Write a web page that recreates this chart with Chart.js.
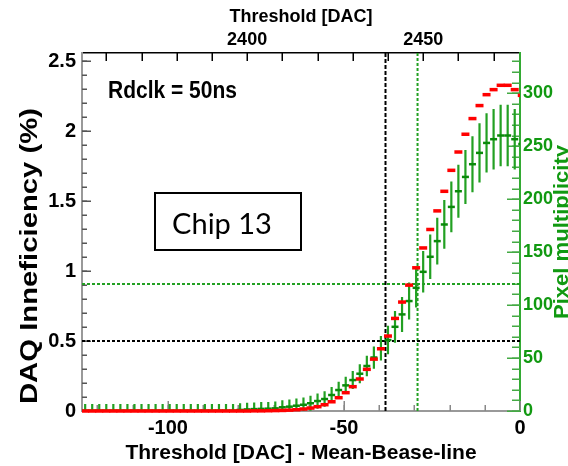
<!DOCTYPE html>
<html>
<head>
<meta charset="utf-8">
<title>DAQ inefficiency - Chip 13</title>
<script src="https://cdn.jsdelivr.net/npm/chart.js@4.4.1/dist/chart.umd.min.js"></script>
<style>
  html, body { margin: 0; padding: 0; background: #fff; }
  canvas { display: block; }
</style>
</head>
<body>
<canvas id="chart" width="568" height="466"></canvas>
<script>
// bin centres, threshold - mean baseline [DAC], 2 DAC wide bins
const BIN_CENTERS = [
  -123.5, -121.5, -119.5, -117.5, -115.5, -113.5, -111.5, -109.5, -107.5, -105.5,
  -103.5, -101.5, -99.5, -97.5, -95.5, -93.5, -91.5, -89.5, -87.5, -85.5,
  -83.5, -81.5, -79.5, -77.5, -75.5, -73.5, -71.5, -69.5, -67.5, -65.5,
  -63.5, -61.5, -59.5, -57.5, -55.5, -53.5, -51.5, -49.5, -47.5, -45.5,
  -43.5, -41.5, -39.5, -37.5, -35.5, -33.5, -31.5, -29.5, -27.5, -25.5,
  -23.5, -21.5, -19.5, -17.5, -15.5, -13.5, -11.5, -9.5, -7.5, -5.5,
  -3.5, -1.5, 0.5
];

// red: DAQ inefficiency (%)
const DAQ_INEFF = [
  0, 0, 0, 0, 0, 0, 0, 0, 0, 0,
  0, 0, 0, 0, 0, 0, 0, 0, 0, 0,
  0, 0, 0, 0, 0.001, 0.001, 0.002, 0.003, 0.004, 0.006,
  0.009, 0.014, 0.021, 0.031, 0.045, 0.066, 0.095, 0.131, 0.174, 0.229,
  0.298, 0.371, 0.445, 0.536, 0.662, 0.779, 0.90, 1.024, 1.166, 1.298,
  1.431, 1.571, 1.721, 1.852, 1.979, 2.091, 2.184, 2.262, 2.298, 2.329,
  2.329, 2.298, 2.257
];

// green: pixel multiplicity and its error
const PIX_MULT = [
  0.3, 0.3, 0.3, 0.3, 0.3, 0.3, 0.3, 0.3, 0.3, 0.3,
  0.3, 0.3, 0.3, 0.3, 0.3, 0.3, 0.3, 0.3, 0.3, 0.3,
  0.3, 0.3, 1.0, 1.5, 1.8, 2.0, 2.2, 2.5, 3.5, 4.1,
  5.0, 5.9, 7.3, 9.4, 11.3, 15.1, 19.8, 24.2, 29.2, 35.2,
  42.5, 50.5, 59.2, 67, 79.5, 91.2, 103.8, 116.3, 131.4, 145.6,
  160.4, 176.1, 192.7, 207.5, 221, 233, 243.7, 253.1, 256.6, 260.1,
  260.1, 256.6, 252
];
const PIX_ERR = [
  6.2, 6.2, 6.2, 6.2, 6.2, 6.2, 6.2, 6.2, 6.2, 6.2,
  6.2, 6.2, 6.2, 6.2, 6.2, 6.2, 6.2, 6.2, 6.2, 6.2,
  6.2, 6.2, 6.2, 6.3, 6.3, 6.4, 6.4, 6.5, 6.6, 6.7,
  6.8, 6.9, 7.0, 7.2, 7.4, 7.6, 7.8, 8.1, 8.5, 9.0,
  9.6, 10.5, 11.5, 13.5, 15, 16.5, 17.5, 18.5, 19.6, 21,
  22, 23, 24, 25, 25.5, 26.5, 28, 28, 28.5, 29,
  29, 28.5, 28
];

// cut lines
const BLACK_CUT_X = -38.2;
const BLACK_CUT_Y = 0.5;     // %
const GREEN_CUT_X = -29.1;
const GREEN_CUT_Y = 120;     // pixels

// axes
const X_MIN = -124.4, X_MAX = 0;
const TOP_OFFSET = 2477.5;   // mean baseline, top axis = x + offset
const Y_MIN = 0, Y_MAX = 2.56;
const Y1_MIN = 0, Y1_MAX = 338;

const X_LABELS = [-100, -50, 0];
const TOP_LABELS = [2400, 2450];
const Y_LABELS = [0, 0.5, 1, 1.5, 2, 2.5];
const Y1_LABELS = [0, 50, 100, 150, 200, 250, 300];

function steps(from, to, step) {
  const out = [];
  const n = Math.round((to - from) / step);
  for (let i = 0; i <= n; i++) out.push(Math.round((from + i * step) * 1000) / 1000);
  return out;
}

const FONT = '"Liberation Sans", Arial, Helvetica, sans-serif';
const GREEN = '#119911';

// ROOT-style ticks drawn inside the frame
const innerTicks = {
  id: 'innerTicks',
  beforeDatasetsDraw(chart) {
    const { ctx, chartArea: a, scales } = chart;
    const draw = (scale, values, len, color, side) => {
      ctx.save();
      ctx.strokeStyle = color;
      ctx.lineWidth = 1.5;
      ctx.beginPath();
      values.forEach(v => {
        const p = Math.round(scale.getPixelForValue(v)) + 0.25;
        if (side === 'bottom') { ctx.moveTo(p, a.bottom); ctx.lineTo(p, a.bottom - len); }
        if (side === 'top')    { ctx.moveTo(p, a.top);    ctx.lineTo(p, a.top + len); }
        if (side === 'left')   { ctx.moveTo(a.left, p);   ctx.lineTo(a.left + len, p); }
        if (side === 'right')  { ctx.moveTo(a.right, p);  ctx.lineTo(a.right - len, p); }
      });
      ctx.stroke();
      ctx.restore();
    };
    draw(scales.x, steps(-120, -10, 10), 6, '#888', 'bottom');
    draw(scales.x, X_LABELS, 10, '#888', 'bottom');
    draw(scales.x2, steps(2360, 2470, 10), 8, '#000', 'top');
    draw(scales.y, steps(0, 2.5, 0.1), 5, '#555', 'left');
    draw(scales.y, Y_LABELS, 9, '#555', 'left');
    draw(scales.y1, steps(0, 330, 10), 8, '#44aa44', 'right');
    draw(scales.y1, Y1_LABELS, 13, '#44aa44', 'right');
  }
};

// vertical error bars of the green histogram
const errorBars = {
  id: 'errorBars',
  beforeDatasetDraw(chart, args) {
    if (args.index !== 1) return;
    const { ctx, chartArea: a, scales } = chart;
    ctx.save();
    ctx.beginPath();
    ctx.rect(a.left, a.top, a.right - a.left, a.bottom - a.top);
    ctx.clip();
    ctx.strokeStyle = '#22a022';
    ctx.lineWidth = 2.2;
    ctx.beginPath();
    BIN_CENTERS.forEach((c, i) => {
      const px = scales.x.getPixelForValue(c);
      ctx.moveTo(px, scales.y1.getPixelForValue(PIX_MULT[i] + PIX_ERR[i]));
      ctx.lineTo(px, scales.y1.getPixelForValue(PIX_MULT[i] - PIX_ERR[i]));
    });
    ctx.stroke();
    ctx.restore();
  }
};

// titles ROOT draws rotated bottom-to-top, plus the pad labels
const texts = {
  id: 'texts',
  afterDraw(chart) {
    const { ctx } = chart;
    ctx.save();
    ctx.fillStyle = '#000';
    ctx.textAlign = 'center';
    ctx.textBaseline = 'alphabetic';

    ctx.save();
    ctx.translate(37, 256);
    ctx.rotate(-Math.PI / 2);
    ctx.scale(1.22, 1);
    ctx.font = 'bold 24px ' + FONT;
    ctx.fillText('DAQ Inneficiency (%)', 0, 0);
    ctx.restore();

    ctx.save();
    ctx.translate(568, 232);
    ctx.rotate(-Math.PI / 2);
    ctx.scale(1.05, 1);
    ctx.fillStyle = GREEN;
    ctx.font = 'bold 21px ' + FONT;
    ctx.fillText('Pixel multiplicity', 0, 0);
    ctx.restore();

    ctx.save();
    ctx.translate(108, 97.5);
    ctx.scale(1, 1.1);
    ctx.textAlign = 'left';
    ctx.font = 'bold 21px ' + FONT;
    ctx.fillText('Rdclk = 50ns', 0, 0);
    ctx.restore();

    ctx.strokeStyle = '#000';
    ctx.lineWidth = 2;
    ctx.strokeRect(155, 193, 146, 57);
    ctx.font = '29px Lato, "Open Sans", sans-serif';
    ctx.fillText('Chip 13', 222, 234);
    ctx.restore();
  }
};

const labelFont = size => ({ family: FONT, size, weight: 'bold' });
const fixTicks = list => scale => { scale.ticks = list.map(v => ({ value: v })); };
const noGrid = { display: false, drawTicks: false, tickLength: 0 };

new Chart(document.getElementById('chart'), {
  type: 'line',
  data: {
    datasets: [
      {
        label: 'DAQ inefficiency',
        data: BIN_CENTERS.map((x, i) => ({ x, y: DAQ_INEFF[i] })),
        xAxisID: 'x', yAxisID: 'y',
        showLine: false,
        pointStyle: 'line', pointRadius: 4, pointBorderWidth: 3.5,
        pointBorderColor: '#ff0000', pointBackgroundColor: '#ff0000',
        clip: { left: 0, right: 0, top: false, bottom: false }
      },
      {
        label: 'Pixel multiplicity',
        data: BIN_CENTERS.map((x, i) => ({ x, y: PIX_MULT[i] })),
        xAxisID: 'x', yAxisID: 'y1',
        showLine: false,
        pointStyle: 'line', pointRadius: 3.5, pointBorderWidth: 2.5,
        pointBorderColor: '#0a8a0a', pointBackgroundColor: '#0a8a0a',
        clip: { left: 0, right: 0, top: 0, bottom: 0 }
      },
      {
        data: [{ x: BLACK_CUT_X, y: Y_MIN }, { x: BLACK_CUT_X, y: Y_MAX }],
        xAxisID: 'x', yAxisID: 'y',
        borderColor: '#000', borderWidth: 2, borderDash: [4, 2], pointRadius: 0
      },
      {
        data: [{ x: X_MIN, y: BLACK_CUT_Y }, { x: X_MAX, y: BLACK_CUT_Y }],
        xAxisID: 'x', yAxisID: 'y',
        borderColor: '#000', borderWidth: 2, borderDash: [3, 2], pointRadius: 0
      },
      {
        data: [{ x: GREEN_CUT_X, y: Y_MIN }, { x: GREEN_CUT_X, y: Y_MAX }],
        xAxisID: 'x', yAxisID: 'y',
        borderColor: '#22a022', borderWidth: 2, borderDash: [3, 2], pointRadius: 0
      },
      {
        data: [{ x: X_MIN, y: GREEN_CUT_Y }, { x: X_MAX, y: GREEN_CUT_Y }],
        xAxisID: 'x', yAxisID: 'y1',
        borderColor: '#22a022', borderWidth: 2, borderDash: [3, 2], pointRadius: 0
      }
    ]
  },
  options: {
    responsive: false,
    animation: false,
    events: [],
    layout: { padding: 0 },
    plugins: { legend: { display: false }, tooltip: { enabled: false } },
    scales: {
      x: {
        type: 'linear', position: 'bottom', min: X_MIN, max: X_MAX,
        afterBuildTicks: fixTicks(X_LABELS),
        afterFit: s => { s.height = 55; },
        grid: noGrid,
        border: { display: true, color: '#999', width: 2 },
        ticks: { font: labelFont(20), color: '#000', padding: 5, maxRotation: 0, autoSkip: false, callback: v => String(v) },
        title: { display: true, text: 'Threshold [DAC] - Mean-Bease-line', color: '#000', font: labelFont(21), padding: { top: 0, bottom: 0 } }
      },
      x2: {
        type: 'linear', position: 'top',
        min: X_MIN + TOP_OFFSET, max: X_MAX + TOP_OFFSET,
        afterBuildTicks: fixTicks(TOP_LABELS),
        afterFit: s => { s.height = 53; },
        grid: noGrid,
        border: { display: true, color: '#000', width: 1.5 },
        ticks: { font: labelFont(18), color: '#000', padding: 2, maxRotation: 0, autoSkip: false, callback: v => String(v) },
        title: { display: true, text: 'Threshold [DAC]', color: '#000', font: labelFont(18), padding: { top: 6, bottom: 0 } }
      },
      y: {
        type: 'linear', position: 'left', min: Y_MIN, max: Y_MAX,
        afterBuildTicks: fixTicks(Y_LABELS),
        afterFit: s => { s.width = 82; },
        grid: noGrid,
        border: { display: true, color: '#999', width: 2 },
        ticks: { font: labelFont(20), color: '#000', padding: 6, autoSkip: false, callback: v => String(v) }
      },
      y1: {
        type: 'linear', position: 'right', min: Y1_MIN, max: Y1_MAX,
        afterBuildTicks: fixTicks(Y1_LABELS),
        afterFit: s => { s.width = 48; },
        grid: noGrid,
        border: { display: true, color: '#33aa33', width: 2 },
        ticks: { font: labelFont(18), color: GREEN, padding: 3, autoSkip: false, callback: v => String(v) }
      }
    }
  },
  plugins: [innerTicks, errorBars, texts]
});
</script>
</body>
</html>
